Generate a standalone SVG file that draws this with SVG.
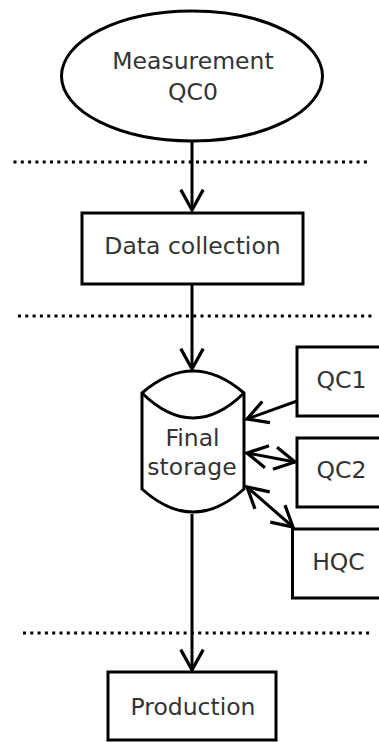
<svg xmlns="http://www.w3.org/2000/svg" width="379" height="742" viewBox="0 0 379 742">
  <style>
    .shape { fill: #ffffff; stroke: #000000; stroke-width: 3; }
    .label { font-family: "DejaVu Sans", sans-serif; font-size: 23.5px; fill: #333333; text-anchor: middle; }
    .sep { stroke: #000000; stroke-width: 3; stroke-dasharray: 3 4.3; fill: none; }
    .edge { stroke: #000000; stroke-width: 3; fill: none; }
  </style>
  <defs>
    <marker id="head" markerUnits="userSpaceOnUse" markerWidth="30" markerHeight="30" viewBox="-22 -14 26 28" refX="0" refY="0" orient="auto-start-reverse" overflow="visible">
      <path d="M-19,-10.5 L0,0 L-19,10.5" fill="none" stroke="#000000" stroke-width="3" stroke-linejoin="miter"/>
    </marker>
  </defs>

  <!-- stage separators -->
  <g id="separators">
    <line class="sep" x1="13.5" y1="162" x2="369" y2="162"/>
    <line class="sep" x1="18" y1="316" x2="373" y2="316"/>
    <line class="sep" x1="23" y1="633" x2="371" y2="633"/>
  </g>

  <g id="connectors">
    <line class="edge" x1="192" y1="142" x2="192" y2="210" marker-end="url(#head)"/>
    <line class="edge" x1="192" y1="285" x2="192" y2="369" marker-end="url(#head)"/>
    <line class="edge" x1="192" y1="514" x2="192" y2="670" marker-end="url(#head)"/>
    <line class="edge" x1="297" y1="401" x2="247" y2="419" marker-end="url(#head)"/>
    <line class="edge" x1="247" y1="453" x2="295" y2="462" marker-start="url(#head)" marker-end="url(#head)"/>
    <line class="edge" x1="247" y1="487" x2="293" y2="527" marker-start="url(#head)" marker-end="url(#head)"/>
  </g>

  <g id="measurement">
    <ellipse class="shape" cx="192" cy="76" rx="130.5" ry="65"/>
    <text class="label" x="193" y="69">Measurement</text>
    <text class="label" x="193" y="100">QC0</text>
  </g>

  <g id="data-collection">
    <rect class="shape" x="82" y="213" width="221" height="71"/>
    <text class="label" x="192.5" y="254">Data collection</text>
  </g>

  <g id="final-storage">
    <path class="shape" d="M142,393 Q193,349 244,393 L244,489 Q193,535 142,489 Z"/>
    <path class="edge" d="M142,393 Q193,443 244,393"/>
    <text class="label" x="192.5" y="446">Final</text>
    <text class="label" x="192" y="475">storage</text>
  </g>

  <g id="qc1">
    <rect class="shape" x="297" y="347" width="100" height="69"/>
    <text class="label" x="341.5" y="388">QC1</text>
  </g>

  <g id="qc2">
    <rect class="shape" x="297" y="438" width="100" height="69"/>
    <text class="label" x="341.5" y="478">QC2</text>
  </g>

  <g id="hqc">
    <rect class="shape" x="292.5" y="529" width="100" height="69"/>
    <text class="label" x="338.5" y="570">HQC</text>
  </g>

  <g id="production">
    <rect class="shape" x="108" y="672" width="168" height="68"/>
    <text class="label" x="193" y="715">Production</text>
  </g>
</svg>
